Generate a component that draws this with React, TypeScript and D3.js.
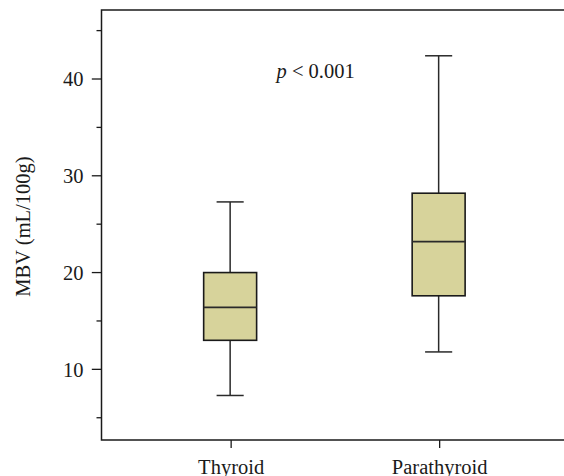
import React from "react";
import * as d3 from "d3";

const categories = ["Thyroid", "Parathyroid"];
const whiskerLow = [7.3, 11.8];
const q1 = [13.0, 17.6];
const median = [16.4, 23.2];
const q3 = [20.0, 28.2];
const whiskerHigh = [27.3, 42.4];
const majorTicks = [10, 20, 30, 40];
const minorTicks = [5, 15, 25, 35, 45];
const pLabel = "0.001";

const W = 564;
const H = 476;
const FONT = "'Liberation Serif', 'DejaVu Serif', serif";
const FS = 20.5;

export default function App() {
  const left = 101.5;
  const top = 10;
  const bottom = 440;
  const y = d3.scaleLinear().domain([2.7, 47.13]).range([bottom, top]);
  const x = d3.scaleLinear().domain([0.383, 2.62]).range([left, left + 2.237 * 208.5]);
  const boxW = x(1.127) - x(1);
  const capW = x(1.065) - x(1);

  return (
    <svg width={W} height={H} style={{ position: "absolute", left: 0, top: 0, background: "#fff", display: "block" }}>
      <rect x={0} y={0} width={W} height={H} fill="#fff" />
      <path
        d={`M${W + 5},${top}H${left}V${bottom}H${W + 5}`}
        fill="none"
        stroke="#1a1a1a"
        strokeWidth={1.5}
      />
      {majorTicks.map((t) => (
        <g key={"M" + t}>
          <line x1={left - 9.7} x2={left} y1={y(t)} y2={y(t)} stroke="#1a1a1a" strokeWidth={1.3} />
          <text x={left - 18} y={y(t)} dy="0.35em" textAnchor="end" fontFamily={FONT} fontSize={FS} fill="#1a1a1a">
            {t}
          </text>
        </g>
      ))}
      {minorTicks.map((t) => (
        <line key={"m" + t} x1={left - 5} x2={left} y1={y(t)} y2={y(t)} stroke="#1a1a1a" strokeWidth={1.3} />
      ))}
      {categories.map((c, i) => (
        <g key={c}>
          <line x1={x(i + 1) + 1} x2={x(i + 1) + 1} y1={bottom} y2={bottom + 8} stroke="#1a1a1a" strokeWidth={1.3} />
          <text x={x(i + 1) + 1} y={bottom + 33.5} textAnchor="middle" fontFamily={FONT} fontSize={FS} fill="#1a1a1a">
            {c}
          </text>
        </g>
      ))}
      <text
        transform={`translate(30, 226.5) rotate(-90)`}
        textAnchor="middle"
        fontFamily={FONT}
        fontSize={FS}
        fill="#1a1a1a"
      >
        MBV (mL/100g)
      </text>
      {categories.map((c, i) => {
        const cx = x(i + 1);
        return (
          <g key={"b" + c}>
            <line x1={cx} x2={cx} y1={y(whiskerHigh[i])} y2={y(q3[i])} stroke="#2a2a2a" strokeWidth={1.5} />
            <line x1={cx} x2={cx} y1={y(q1[i])} y2={y(whiskerLow[i])} stroke="#2a2a2a" strokeWidth={1.5} />
            <line x1={cx - capW} x2={cx + capW} y1={y(whiskerHigh[i])} y2={y(whiskerHigh[i])} stroke="#2a2a2a" strokeWidth={1.5} />
            <line x1={cx - capW} x2={cx + capW} y1={y(whiskerLow[i])} y2={y(whiskerLow[i])} stroke="#2a2a2a" strokeWidth={1.5} />
            <rect
              x={cx - boxW}
              y={y(q3[i])}
              width={boxW * 2}
              height={y(q1[i]) - y(q3[i])}
              fill="#d7d39b"
              stroke="#1a1a1a"
              strokeWidth={1.6}
            />
            <line x1={cx - boxW} x2={cx + boxW} y1={y(median[i])} y2={y(median[i])} stroke="#2a2a2a" strokeWidth={1.6} />
          </g>
        );
      })}
      <text x={276.5} y={78} fontFamily={FONT} fontSize={FS} fill="#1a1a1a">
        <tspan fontStyle="italic">p</tspan>
        <tspan> &lt; {pLabel}</tspan>
      </text>
    </svg>
  );
}
